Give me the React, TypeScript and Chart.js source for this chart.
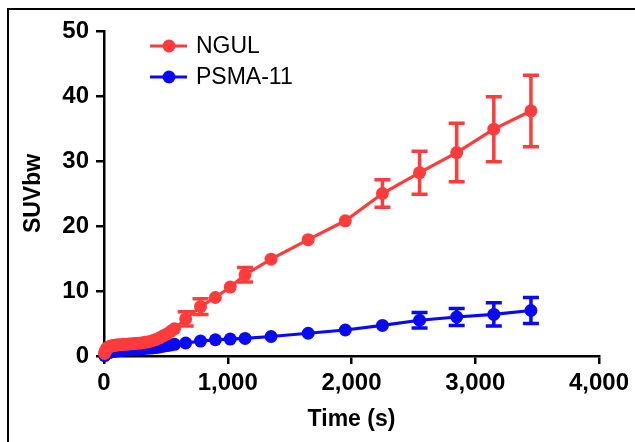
import React, { useEffect, useRef } from "react";
import { Chart, registerables } from "chart.js";

Chart.register(...registerables);

const times = [5, 10, 15, 20, 25, 30, 40, 50, 60, 75, 90, 105, 120, 140, 160, 180, 200, 225, 250, 275, 300, 330, 360, 390, 420, 450, 480, 510, 540, 570, 660, 780, 900, 1020, 1140, 1350, 1650, 1950, 2250, 2550, 2850, 3150, 3450];

const nguMean = [0.4, 0.7, 0.9, 1.1, 1.2, 1.3, 1.4, 1.5, 1.55, 1.6, 1.65, 1.7, 1.72, 1.75, 1.8, 1.82, 1.85, 1.9, 1.93, 1.97, 2.0, 2.1, 2.2, 2.35, 2.55, 2.8, 3.1, 3.4, 3.8, 4.2, 5.7, 7.6, 9.0, 10.6, 12.5, 14.9, 17.9, 20.8, 25.0, 28.2, 31.3, 34.9, 37.7];
const nguErr = [0.1, 0.1, 0.1, 0.1, 0.1, 0.1, 0.1, 0.1, 0.1, 0.1, 0.1, 0.1, 0.1, 0.1, 0.1, 0.1, 0.1, 0.1, 0.1, 0.1, 0.1, 0.1, 0.1, 0.1, 0.1, 0.2, 0.2, 0.2, 0.3, 0.3, 1.1, 1.2, 0.3, 0.3, 1.1, 0.4, 0.4, 0.4, 2.1, 3.3, 4.5, 5.0, 5.5];

const psmaMean = [0.05, 0.15, 0.25, 0.35, 0.42, 0.5, 0.55, 0.6, 0.65, 0.7, 0.75, 0.8, 0.82, 0.85, 0.9, 0.92, 0.95, 1.0, 1.02, 1.05, 1.1, 1.15, 1.2, 1.25, 1.3, 1.4, 1.5, 1.6, 1.7, 1.8, 2.0, 2.3, 2.5, 2.6, 2.7, 3.0, 3.5, 4.0, 4.7, 5.5, 6.0, 6.4, 7.0];
const psmaErr = [0.05, 0.05, 0.05, 0.05, 0.05, 0.05, 0.05, 0.05, 0.05, 0.05, 0.05, 0.05, 0.05, 0.05, 0.05, 0.05, 0.05, 0.05, 0.05, 0.05, 0.05, 0.05, 0.05, 0.05, 0.05, 0.05, 0.05, 0.05, 0.05, 0.05, 0.1, 0.1, 0.1, 0.1, 0.1, 0.2, 0.2, 0.3, 0.4, 1.2, 1.3, 1.8, 2.0];

const seriesNames = ["NGUL", "PSMA-11"];
const seriesColors = ["#FF3B3B", "#0A0AF2"];
const xTicks = [0, 1000, 2000, 3000, 4000];
const yTicks = [0, 10, 20, 30, 40, 50];

const FONT = "'Liberation Sans', Arial, sans-serif";

const errorBarPlugin = {
  id: "errorBars",
  afterDatasetsDraw(chart: any) {
    const ctx = chart.ctx;
    const xs = chart.scales.x;
    const ys = chart.scales.y;
    const errs = [nguErr, psmaErr];
    const means = [nguMean, psmaMean];
    for (let d = 1; d >= 0; d--) {
      ctx.save();
      ctx.strokeStyle = seriesColors[d];
      ctx.lineWidth = 3.5;
      for (let i = 0; i < times.length; i++) {
        const e = errs[d][i];
        const x = xs.getPixelForValue(times[i]);
        const yt = ys.getPixelForValue(means[d][i] + e);
        const yb = ys.getPixelForValue(means[d][i] - e);
        if (yb - yt < 12) continue;
        ctx.beginPath();
        ctx.moveTo(x, yt);
        ctx.lineTo(x, yb);
        ctx.moveTo(x - 8, yt);
        ctx.lineTo(x + 8, yt);
        ctx.moveTo(x - 8, yb);
        ctx.lineTo(x + 8, yb);
        ctx.stroke();
      }
      ctx.restore();
    }
  },
};

const framePlugin = {
  id: "frame",
  beforeDraw(chart: any) {
    const ctx = chart.ctx;
    ctx.save();
    ctx.fillStyle = "#fff";
    ctx.fillRect(0, 0, chart.width, chart.height);
    ctx.fillStyle = "#000";
    ctx.fillRect(7, 8, chart.width - 7, 2);
    ctx.fillRect(7, 8, 2, chart.height - 8);
    ctx.restore();
  },
};

const legendPlugin = {
  id: "customLegend",
  afterDraw(chart: any) {
    const ctx = chart.ctx;
    const rows = [46, 77];
    ctx.save();
    for (let i = 0; i < seriesNames.length; i++) {
      const y = rows[i];
      ctx.strokeStyle = seriesColors[i];
      ctx.fillStyle = seriesColors[i];
      ctx.lineWidth = 3;
      ctx.beginPath();
      ctx.moveTo(150, y);
      ctx.lineTo(187, y);
      ctx.stroke();
      ctx.beginPath();
      ctx.arc(169, y, 6.5, 0, Math.PI * 2);
      ctx.fill();
      ctx.fillStyle = "#000";
      ctx.font = `23px ${FONT}`;
      ctx.textBaseline = "middle";
      ctx.textAlign = "left";
      ctx.fillText(seriesNames[i], 196, y + 1);
    }
    ctx.restore();
  },
};

export default function App() {
  const ref = useRef<HTMLCanvasElement | null>(null);
  useEffect(() => {
    if (!ref.current) return;
    const means = [nguMean, psmaMean];
    const chart = new Chart(ref.current, {
      type: "line",
      data: {
        datasets: seriesNames.map((name, d) => ({
          label: name,
          data: times.map((t, i) => ({ x: t, y: means[d][i] })),
          borderColor: seriesColors[d],
          backgroundColor: seriesColors[d],
          pointBackgroundColor: seriesColors[d],
          pointBorderColor: seriesColors[d],
          pointRadius: 6.5,
          pointBorderWidth: 0,
          borderWidth: 3.2,
          tension: 0,
          clip: false as any,
        })),
      },
      options: {
        responsive: false,
        animation: false,
        events: [],
        layout: { padding: { left: 0, top: 31, right: 36, bottom: 0 } },
        plugins: { legend: { display: false }, tooltip: { enabled: false } },
        scales: {
          x: {
            type: "linear",
            min: 0,
            max: 4000,
            afterBuildTicks: (s: any) => {
              s.ticks = xTicks.map((v) => ({ value: v }));
            },
            afterFit: (s: any) => {
              s.height = 86;
            },
            border: { display: true, color: "#000", width: 2.5 },
            grid: { display: true, drawOnChartArea: false, drawTicks: true, tickLength: 8, color: "#000", lineWidth: 2.5 },
            ticks: {
              color: "#000",
              padding: 5,
              maxRotation: 0,
              font: { family: FONT, size: 24, weight: "bold" },
              callback: (v: any) => Number(v).toLocaleString("en-US"),
            },
            title: {
              display: true,
              text: "Time (s)",
              color: "#000",
              font: { family: FONT, size: 23, weight: "bold" },
              padding: { top: 0, bottom: 9 },
            },
          },
          y: {
            type: "linear",
            min: 0,
            max: 50,
            afterBuildTicks: (s: any) => {
              s.ticks = yTicks.map((v) => ({ value: v }));
            },
            afterFit: (s: any) => {
              s.width = 104;
            },
            border: { display: true, color: "#000", width: 2.5 },
            grid: { display: true, drawOnChartArea: false, drawTicks: true, tickLength: 8, color: "#000", lineWidth: 2.5 },
            ticks: {
              color: "#000",
              padding: 7,
              font: { family: FONT, size: 24, weight: "bold" },
            },
            title: {
              display: true,
              text: "SUVbw",
              color: "#000",
              font: { family: FONT, size: 23, weight: "bold" },
              padding: { top: 20, bottom: 0 },
            },
          },
        },
      },
      plugins: [framePlugin, errorBarPlugin, legendPlugin],
    });
    return () => chart.destroy();
  }, []);
  return (
    <div style={{ position: "absolute", left: 0, top: 0, width: 635, height: 442 }}>
      <canvas ref={ref} width={635} height={442} />
    </div>
  );
}
